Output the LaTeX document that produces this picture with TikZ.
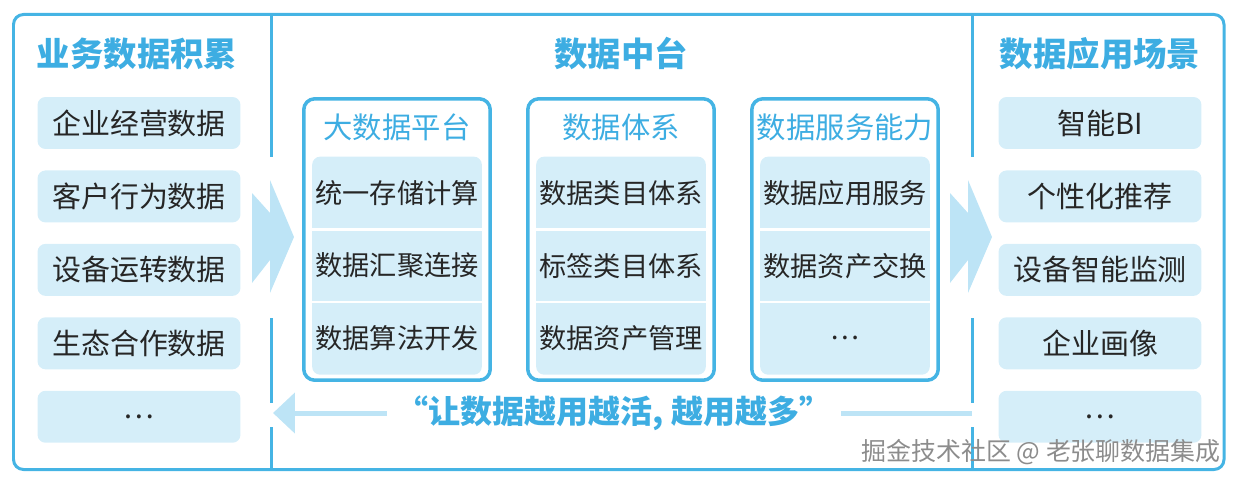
\documentclass[tikz,border=0pt]{standalone}
\usepackage{fontspec}
\setmainfont{Noto Sans CJK SC}
\usetikzlibrary{arrows.meta, positioning, fit, backgrounds}
\definecolor{lineblue}{HTML}{45B4E4}
\definecolor{headblue}{HTML}{3DADE2}
\definecolor{cellblue}{HTML}{D5EEF9}
\definecolor{flowblue}{HTML}{BDE4F6}
\definecolor{inkgray}{HTML}{262626}

\begin{document}
\begin{tikzpicture}[
    x=0.02cm, y=-0.02cm,
    frame/.style={draw=lineblue, line width=0.06cm, rounded corners=0.2cm},
    divider/.style={lineblue, line width=0.06cm},
    coltitle/.style={font=\fontsize{19}{22}\selectfont\bfseries, text=headblue},
    item/.style={rectangle, fill=cellblue, minimum width=4.06cm, minimum height=1.04cm, rounded corners=0.16cm, inner sep=0pt, font=\fontsize{16.5}{20}\selectfont, text=inkgray},
    group/.style={rectangle, draw=lineblue, line width=0.07cm, minimum width=3.73cm, minimum height=5.63cm, rounded corners=0.22cm},
    grouptitle/.style={font=\fontsize{16.7}{20}\selectfont, text=headblue},
    cell/.style={rectangle, minimum width=3.38cm, minimum height=1.44cm, inner sep=0pt, font=\fontsize{15.5}{19}\selectfont, text=inkgray},
    panel/.style={fill=cellblue, rounded corners=0.16cm, inner sep=0pt},
    rowsep/.style={white, line width=0.05cm},
    bigflow/.style={fill=flowblue},
    backflow/.style={-{Triangle[length=0.44cm, width=0.8cm]}, flowblue, line width=0.1cm},
    slogan/.style={fill=white, inner xsep=0.2cm, inner ysep=0pt, font=\fontsize{18.2}{20}\selectfont\bfseries, text=headblue},
    watermark/.style={font=\fontsize{14.2}{16}\selectfont, text=black!45, inner sep=0pt},
]

\useasboundingbox (0,0) rectangle (1237,483);

% Outer frame and dividers
\draw[frame] (13.5,14.5) rectangle (1224,469.5);
\draw[divider] (271,14.5) -- (271,157) (271,318) -- (271,403) (271,427) -- (271,469.5);
\draw[divider] (972,14.5) -- (972,157) (972,318) -- (972,403) (972,427) -- (972,469.5);

% Column titles
\node[coltitle] (srcT) at (137,54) {业务数据积累};
\node[coltitle] (hubT) at (621,54) {数据中台};
\node[coltitle] (appT) at (1100,54) {数据应用场景};

% Business data (left)
\node[item] (src1) at (139,123) {企业经营数据};
\node[item, below=0.415cm of src1] (src2) {客户行为数据};
\node[item, below=0.415cm of src2] (src3) {设备运转数据};
\node[item, below=0.415cm of src3] (src4) {生态合作数据};
\node[item, below=0.415cm of src4] (src5) {…};

% Application scenarios (right)
\node[item] (app1) at (1100,123) {智能BI};
\node[item, below=0.415cm of app1] (app2) {个性化推荐};
\node[item, below=0.415cm of app2] (app3) {设备智能监测};
\node[item, below=0.415cm of app3] (app4) {企业画像};
\node[item, below=0.415cm of app4] (app5) {…};

% Data middle platform groups
\node[group] (plat) at (397,239.5) {};
\node[grouptitle] (platT) at (397,127) {大数据平台};
\node[cell] (plat1) at (397,193) {统一存储计算};
\node[cell, below=0cm of plat1] (plat2) {数据汇聚连接};
\node[cell, below=0cm of plat2] (plat3) {数据算法开发};

\node[group] (sys) at (621,239.5) {};
\node[grouptitle] (sysT) at (621,127) {数据体系};
\node[cell] (sys1) at (621,193) {数据类目体系};
\node[cell, below=0cm of sys1] (sys2) {标签类目体系};
\node[cell, below=0cm of sys2] (sys3) {数据资产管理};

\node[group] (svc) at (845,239.5) {};
\node[grouptitle] (svcT) at (845,127) {数据服务能力};
\node[cell] (svc1) at (845,193) {数据应用服务};
\node[cell, below=0cm of svc1] (svc2) {数据资产交换};
\node[cell, below=0cm of svc2] (svc3) {…};

% Row separators
\draw[rowsep] (plat1.south west) -- (plat1.south east);
\draw[rowsep] (plat2.south west) -- (plat2.south east);
\draw[rowsep] (sys1.south west) -- (sys1.south east);
\draw[rowsep] (sys2.south west) -- (sys2.south east);
\draw[rowsep] (svc1.south west) -- (svc1.south east);
\draw[rowsep] (svc2.south west) -- (svc2.south east);

% Flow arrows between columns
\coordinate (inL) at (271,237);
\coordinate (inR) at (969,237);
\fill[bigflow] (inL) ++(-19,-44) -- ++(18,20) -- ++(0,-33) -- ++(24,57) -- ++(-24,56) -- ++(0,-33) -- ++(-18,23) -- cycle;
\fill[bigflow] (inR) ++(-19,-44) -- ++(18,20) -- ++(0,-33) -- ++(24,57) -- ++(-24,56) -- ++(0,-33) -- ++(-18,23) -- cycle;

% Feedback arrow
\coordinate (backR) at (972,413);
\coordinate (backL) at (273,413);
\draw[backflow] (backR) -- (backL);
\node[slogan] (motto) at (614,413) {“让数据越用越活, 越用越多”};

\node[watermark, anchor=east] (wm) at (1221,452) {掘金技术社区 @ 老张聊数据集成};

% Cell panels
\begin{scope}[on background layer]
    \node[panel, fit=(plat1)(plat3)] (platP) {};
    \node[panel, fit=(sys1)(sys3)] (sysP) {};
    \node[panel, fit=(svc1)(svc3)] (svcP) {};
\end{scope}

\end{tikzpicture}
\end{document}
